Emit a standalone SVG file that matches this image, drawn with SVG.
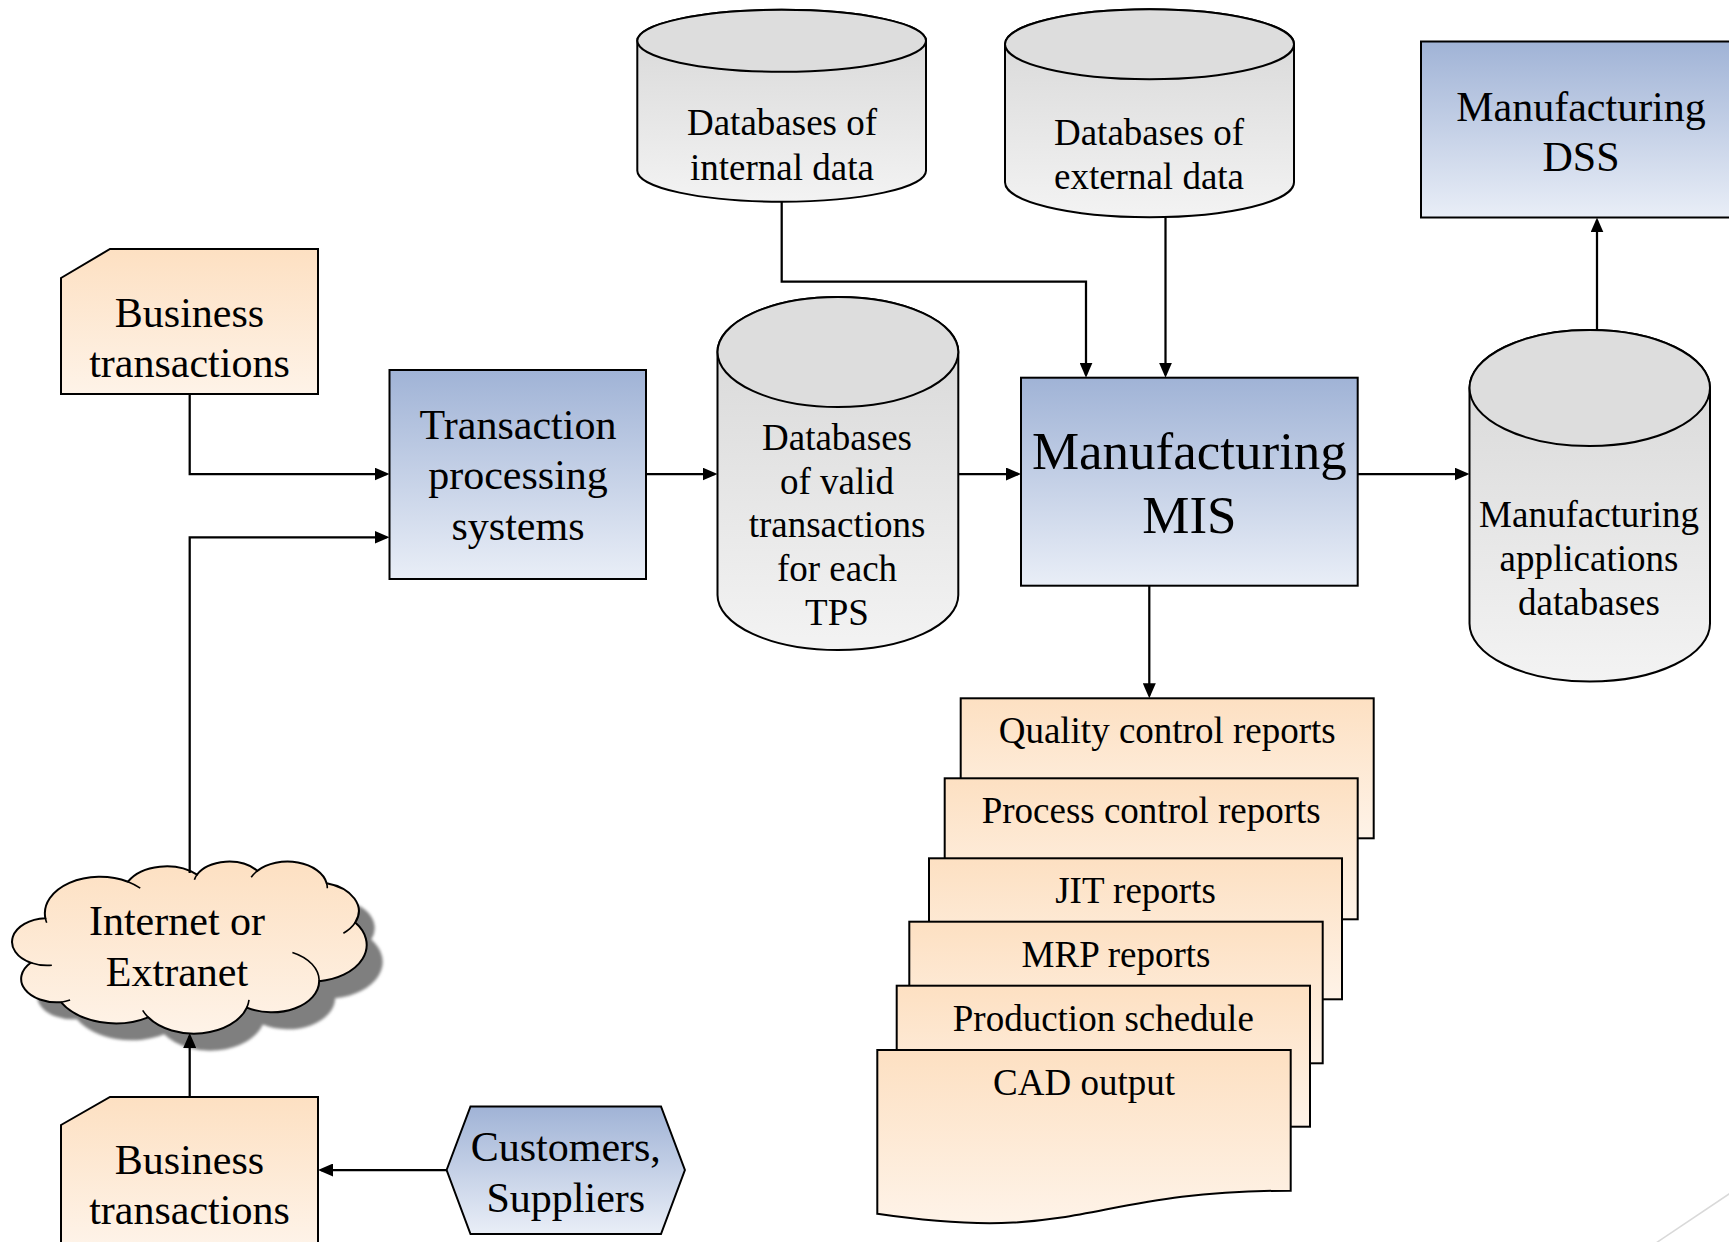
<svg xmlns="http://www.w3.org/2000/svg" width="1729" height="1242" viewBox="0 0 1729 1242">
  <defs>
    <linearGradient id="peach" x1="0" y1="0" x2="0" y2="1">
      <stop offset="0" stop-color="#fde0c2"/>
      <stop offset="1" stop-color="#fef3e8"/>
    </linearGradient>
    <linearGradient id="blue" x1="0" y1="0" x2="0" y2="1">
      <stop offset="0" stop-color="#a0b3d6"/>
      <stop offset="1" stop-color="#e9eef7"/>
    </linearGradient>
    <linearGradient id="gray" x1="0" y1="0" x2="0" y2="1">
      <stop offset="0" stop-color="#d6d6d6"/>
      <stop offset="1" stop-color="#f3f3f3"/>
    </linearGradient>
    <marker id="arrow" markerUnits="userSpaceOnUse" markerWidth="15" markerHeight="13" refX="12" refY="6.5" orient="auto">
      <path d="M0,0 L15,6.5 L0,13 Z" fill="#000"/>
    </marker>
    <filter id="soft" x="-10%" y="-10%" width="120%" height="120%">
      <feGaussianBlur stdDeviation="1.5"/>
    </filter>
    <path id="cloudShape" d="M45.37,918.21 A55.18,36.59 0 0 1 127.94,881.71 A43.58,28.93 0 0 1 197.00,874.66 A35.67,23.67 0 0 1 257.29,870.87 A39.69,26.26 0 0 1 326.63,883.19 A43.58,28.96 0 0 1 355.23,922.54 A55.36,36.71 0 0 1 319.16,981.24 A47.27,31.32 0 0 1 246.85,1007.55 A55.17,36.69 0 0 1 148.18,1017.31 A63.08,41.98 0 0 1 60.94,1002.20 A35.63,23.56 0 0 1 30.77,962.70 A35.50,23.67 0 0 1 45.37,918.21 Z"/>
  </defs>
  <style>
    .edge { stroke: #000; stroke-width: 2; }
    .peach { fill: url(#peach); }
    .blue { fill: url(#blue); }
    .drum { fill: url(#gray); stroke: #000; stroke-width: 2; }
    .lid { fill: #dddddd; stroke: #000; stroke-width: 2; }
    .lbl { font-family: "Liberation Serif", "Times New Roman", serif; fill: #000; text-anchor: middle; }
    .f42 { font-size: 42px; }
    .f37 { font-size: 37px; }
    .f53 { font-size: 53px; }
    .conn { fill: none; stroke: #000; stroke-width: 2.25; marker-end: url(#arrow); }
  </style>

  <rect width="1729" height="1242" fill="#ffffff"/>

  <!-- corner decoration line -->
  <line x1="1650" y1="1247" x2="1735" y2="1190" stroke="#d9d9d9" stroke-width="1.5"/>

  <!-- Business transactions (upper) -->
  <g id="business-transactions-top">
    <path class="peach edge" d="M61,278 L110,249 H318 V394 H61 Z"/>
    <text class="lbl f42" x="189.5" y="326.7">Business</text>
    <text class="lbl f42" x="189.5" y="376.7">transactions</text>
  </g>

  <!-- Transaction processing systems -->
  <g id="tps">
    <rect class="blue edge" x="389.5" y="370" width="256.5" height="209"/>
    <text class="lbl f42" x="518" y="439.3">Transaction</text>
    <text class="lbl f42" x="518" y="489.3">processing</text>
    <text class="lbl f42" x="518" y="540">systems</text>
  </g>

  <!-- Databases of valid transactions -->
  <g id="db-valid">
    <path class="drum" d="M717.5,352 V595 A120.4,55 0 0 0 958.3,595 V352 A120.4,55 0 0 0 717.5,352 Z"/>
    <ellipse class="lid" cx="837.9" cy="352" rx="120.4" ry="55"/>
    <text class="lbl f37" x="837" y="449.5">Databases</text>
    <text class="lbl f37" x="837" y="493.5">of valid</text>
    <text class="lbl f37" x="837" y="537">transactions</text>
    <text class="lbl f37" x="837" y="581">for each</text>
    <text class="lbl f37" x="837" y="625">TPS</text>
  </g>

  <!-- Databases of internal data -->
  <g id="db-internal">
    <path class="drum" d="M637.3,40.8 V170.7 A144.35,31 0 0 0 926,170.7 V40.8 A144.35,31 0 0 0 637.3,40.8 Z"/>
    <ellipse class="lid" cx="781.65" cy="40.8" rx="144.35" ry="31"/>
    <text class="lbl f37" x="782" y="135">Databases of</text>
    <text class="lbl f37" x="782" y="180">internal data</text>
  </g>

  <!-- Databases of external data -->
  <g id="db-external">
    <path class="drum" d="M1005,44.3 V182.3 A144.5,35 0 0 0 1294,182.3 V44.3 A144.5,35 0 0 0 1005,44.3 Z"/>
    <ellipse class="lid" cx="1149.5" cy="44.3" rx="144.5" ry="35"/>
    <text class="lbl f37" x="1149" y="145">Databases of</text>
    <text class="lbl f37" x="1149" y="189.3">external data</text>
  </g>

  <!-- Manufacturing MIS -->
  <g id="mis">
    <rect class="blue edge" x="1021" y="377.7" width="336.7" height="208"/>
    <text class="lbl f53" x="1189.4" y="469.3">Manufacturing</text>
    <text class="lbl f53" x="1189.4" y="533.3">MIS</text>
  </g>

  <!-- Manufacturing applications databases -->
  <g id="db-applications">
    <path class="drum" d="M1469.5,388 V623.5 A120.25,58 0 0 0 1710,623.5 V388 A120.25,58 0 0 0 1469.5,388 Z"/>
    <ellipse class="lid" cx="1589.75" cy="388" rx="120.25" ry="58"/>
    <text class="lbl f37" x="1589" y="527">Manufacturing</text>
    <text class="lbl f37" x="1589" y="571">applications</text>
    <text class="lbl f37" x="1589" y="615">databases</text>
  </g>

  <!-- Manufacturing DSS -->
  <g id="dss">
    <rect class="blue edge" x="1421" y="41.5" width="320" height="176"/>
    <text class="lbl f42" x="1581" y="120.5">Manufacturing</text>
    <text class="lbl f42" x="1581" y="170.5">DSS</text>
  </g>

  <!-- Report stack -->
  <g id="report-quality">
    <rect class="peach edge" x="960.7" y="698.3" width="413" height="140"/>
    <text class="lbl f37" x="1167.2" y="743.3">Quality control reports</text>
  </g>
  <g id="report-process">
    <rect class="peach edge" x="944.7" y="778.3" width="413" height="141"/>
    <text class="lbl f37" x="1151.2" y="823.3">Process control reports</text>
  </g>
  <g id="report-jit">
    <rect class="peach edge" x="929" y="858.3" width="413" height="141"/>
    <text class="lbl f37" x="1135.5" y="902.8">JIT reports</text>
  </g>
  <g id="report-mrp">
    <rect class="peach edge" x="909.3" y="921.7" width="413.4" height="141.6"/>
    <text class="lbl f37" x="1116" y="966.7">MRP reports</text>
  </g>
  <g id="report-production">
    <rect class="peach edge" x="896.7" y="985.7" width="413.3" height="141"/>
    <text class="lbl f37" x="1103.3" y="1030.7">Production schedule</text>
  </g>
  <g id="report-cad">
    <path class="peach edge" d="M877.3,1050 H1290.7 V1190.7 C1084,1190.7 1084,1244.3 877.3,1213.8 Z"/>
    <text class="lbl f37" x="1084" y="1094.5">CAD output</text>
  </g>

  <!-- Internet or Extranet cloud -->
  <g id="cloud">
    <use href="#cloudShape" transform="translate(16,17)" fill="#7f7f7f" filter="url(#soft)"/>
    <use href="#cloudShape" class="peach edge"/>
    <path fill="none" stroke="#000" stroke-width="1.6" d="M51.85,965.2 A35.50,23.67 0 0 1 30.77,962.70 M70.1,999.95 A35.63,23.56 0 0 1 60.94,1002.2 M148.18,1017.31 A55.17,36.69 0 0 1 142.7,1010.4 M249.0,999.95 A55.17,36.69 0 0 1 246.85,1007.55 M292.4,952.4 A47.27,31.32 0 0 1 319.16,981.24 M355.23,922.54 A43.58,28.96 0 0 1 343.4,933.2 M326.63,883.19 A39.69,26.26 0 0 1 327.3,888.2 M251.2,877.3 A39.69,26.26 0 0 1 257.29,870.87 M194.4,879.8 A35.67,23.67 0 0 1 197.0,874.66 M127.94,881.71 A55.18,36.59 0 0 1 140.24,888.2 M46.7,922.8 A55.18,36.59 0 0 1 45.37,918.21"/>
    <text class="lbl f42" x="177" y="935">Internet or</text>
    <text class="lbl f42" x="177" y="986">Extranet</text>
  </g>

  <!-- Business transactions (lower) -->
  <g id="business-transactions-bottom">
    <path class="peach edge" d="M61,1125 L110,1097 H318 V1244 H61 Z"/>
    <text class="lbl f42" x="189.5" y="1174">Business</text>
    <text class="lbl f42" x="189.5" y="1224">transactions</text>
  </g>

  <!-- Customers, Suppliers -->
  <g id="customers-suppliers">
    <path class="blue edge" d="M446.6,1170 L470.5,1106.5 H661 L684.9,1170 L661,1234 H470.5 Z"/>
    <text class="lbl f42" x="565.8" y="1160.7">Customers,</text>
    <text class="lbl f42" x="565.8" y="1211.7">Suppliers</text>
  </g>

  <!-- connectors, drawn last so arrowheads sit on top of shapes -->
  <g id="connectors">
    <path class="conn" d="M189.7,394 V474 H386.5"/>
    <path class="conn" d="M189.7,873 V537.3 H386.5"/>
    <path class="conn" d="M189.7,1097 V1036"/>
    <path class="conn" d="M446.6,1170 H321"/>
    <path class="conn" d="M646,474 H714.5"/>
    <path class="conn" d="M958.3,474 H1018"/>
    <path class="conn" d="M781.7,201.7 V281.5 H1086 V374.7"/>
    <path class="conn" d="M1165.5,217.3 V374.7"/>
    <path class="conn" d="M1357.7,474 H1466.5"/>
    <path class="conn" d="M1149.3,585.7 V695.3"/>
    <path class="conn" d="M1597,330.5 V220.4"/>
  </g>
</svg>
